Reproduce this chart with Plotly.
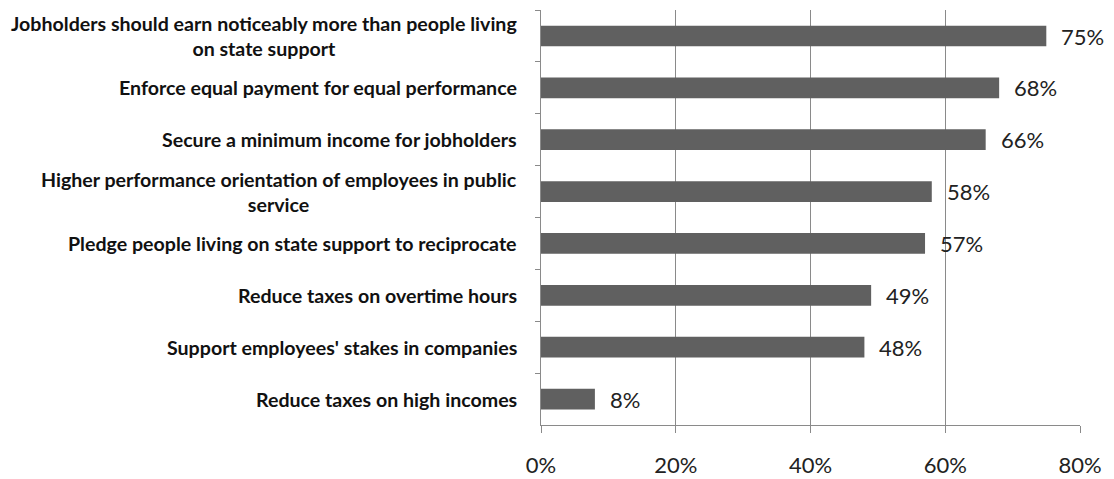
import plotly.graph_objects as go

# Survey items and share of agreement
categories = [
    "Jobholders should earn noticeably more than people living<br>on state support",
    "Enforce equal payment for equal performance",
    "Secure a minimum income for jobholders",
    "Higher performance orientation of employees in public<br>service",
    "Pledge people living on state support to reciprocate",
    "Reduce taxes on overtime hours",
    "Support employees' stakes in companies",
    "Reduce taxes on high incomes",
]
values = [75, 68, 66, 58, 57, 49, 48, 8]
x_ticks = [0, 20, 40, 60, 80]
x_tick_labels = ["0%", "20%", "40%", "60%", "80%"]

label_font = dict(family="Lato", size=19.6, color="#111111")
value_font = dict(family="Lato", size=22, color="#222222")

fig = go.Figure(
    go.Bar(
        x=values,
        y=categories,
        orientation="h",
        width=0.4,
        marker=dict(color="#606060", line=dict(width=0)),
        hoverinfo="skip",
    )
)

annotations = []
for cat, val in zip(categories, values):
    # category label, block right aligned next to the axis, lines centered
    annotations.append(dict(
        x=0, xref="paper", y=cat, yref="y",
        text="<b>" + cat + "</b>", showarrow=False,
        xanchor="right", yanchor="middle", align="center",
        xshift=-22, font=label_font,
    ))
    # value label beside the bar end
    annotations.append(dict(
        x=val, xref="x", y=cat, yref="y",
        text=f"{val}%", showarrow=False,
        xanchor="left", yanchor="middle", xshift=13, yshift=0,
        font=value_font,
    ))

fig.update_layout(
    width=1114, height=479,
    margin=dict(l=541, r=34, t=10, b=54),
    paper_bgcolor="white", plot_bgcolor="white",
    showlegend=False,
    annotations=annotations,
    xaxis=dict(
        range=[0, 80], tickvals=x_ticks, ticktext=x_tick_labels,
        showgrid=True, gridcolor="#8a8a8a", gridwidth=1,
        zeroline=False, showline=True, linecolor="#8a8a8a", linewidth=1,
        ticks="outside", ticklen=7, tickcolor="#8a8a8a",
        tickfont=dict(family="Lato", size=22, color="#222222"),
        ticklabelstandoff=14, automargin=False, fixedrange=True,
    ),
    yaxis=dict(
        autorange="reversed", showticklabels=False,
        showgrid=False, showline=True, linecolor="#8a8a8a", linewidth=1,
        ticks="outside", ticklen=5, tickcolor="#8a8a8a",
        tickson="boundaries", automargin=False, fixedrange=True,
    ),
)

fig.write_html("out.html")
